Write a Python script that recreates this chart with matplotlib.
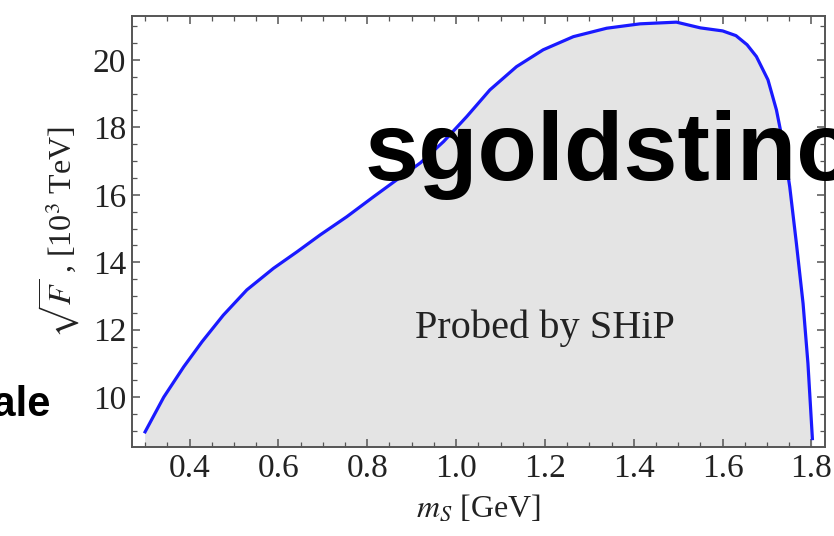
import matplotlib
matplotlib.use("Agg")
import matplotlib.pyplot as plt
from matplotlib.ticker import MultipleLocator

# curve (m_S in GeV, sqrt(F) in 10^3 TeV)
ms = [0.300, 0.342, 0.387, 0.428, 0.476, 0.529, 0.589, 0.642, 0.694, 0.754,
      0.814, 0.866, 0.920, 0.972, 1.024, 1.076, 1.136, 1.196, 1.264, 1.339,
      1.414, 1.496, 1.550, 1.600, 1.630, 1.655, 1.676, 1.702, 1.721, 1.736,
      1.751, 1.766, 1.781, 1.792, 1.802]
sqrtF = [8.97, 10.00, 10.90, 11.64, 12.43, 13.18, 13.82, 14.31, 14.81, 15.35,
         15.94, 16.44, 16.95, 17.58, 18.32, 19.11, 19.80, 20.30, 20.69, 20.94,
         21.07, 21.12, 20.95, 20.86, 20.72, 20.45, 20.10, 19.41, 18.52, 17.53,
         16.24, 14.56, 12.78, 11.00, 8.77]

xticks = [0.4, 0.6, 0.8, 1.0, 1.2, 1.4, 1.6, 1.8]
yticks = [10, 12, 14, 16, 18, 20]

plt.rcParams['font.family'] = ['Liberation Serif', 'DejaVu Serif']
plt.rcParams['mathtext.fontset'] = 'stix'

fig = plt.figure(figsize=(8.34, 5.36), dpi=100)
ax = fig.add_axes([0.158, 0.166, 0.831, 0.804])

ax.fill_between(ms, sqrtF, 0, color='#e4e4e4', lw=0)
ax.plot(ms, sqrtF, color='#1a1aff', lw=2.3)

ax.set_xlim(0.27, 1.83)
ax.set_ylim(8.52, 21.3)
ax.set_xticks(xticks)
ax.set_xticklabels(["%.1f" % v for v in xticks])
ax.set_yticks(yticks)
ax.xaxis.set_minor_locator(MultipleLocator(0.05))
ax.yaxis.set_minor_locator(MultipleLocator(0.5))
ax.tick_params(which='both', direction='in', top=True, right=True,
               color='#555555', labelsize=24, labelcolor='#222222')
ax.tick_params(which='major', length=6, width=1.1)
ax.tick_params(which='minor', length=3.5, width=0.9)
ax.tick_params(axis='x', pad=5)
ax.tick_params(axis='y', pad=4)
for s in ax.spines.values():
    s.set_color('#555555')
    s.set_linewidth(1.4)

ax.set_xlabel(r'$m_S$ [GeV]', fontsize=23, color='#222222', labelpad=6)
ax.set_ylabel(r'$\sqrt{F}$ , [10$^3$ TeV]', fontsize=23, color='#222222', labelpad=8)

fig.text(0.6535, 0.388, 'Probed by SHiP', fontsize=29, color='#222222',
         ha='center', va='center')

# overlay text from the slide
fig.text(0.4376, 0.664, 'sgoldstino', fontsize=70, fontweight='bold',
         family='Liberation Sans', color='black', va='baseline', ha='left')
fig.text(0.061, 0.224, 'scale', fontsize=30, fontweight='bold',
         family='Liberation Sans', color='black', va='baseline', ha='right')

fig.savefig('out.png', dpi=100)
